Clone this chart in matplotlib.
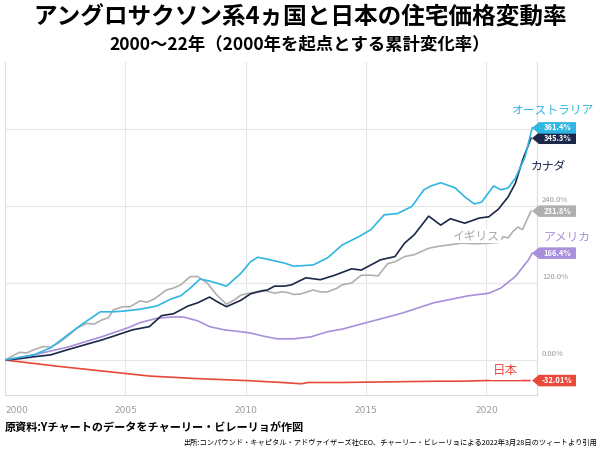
import matplotlib
matplotlib.use('Agg')
import matplotlib.pyplot as plt
from matplotlib.patches import Polygon
from matplotlib.transforms import blended_transform_factory

plt.rcParams['font.family'] = ['Noto Sans CJK JP', 'DejaVu Sans']

# ── data (cumulative change since 2000, %) ──
aus_x = [2000.0, 2000.6, 2001.2, 2001.9, 2002.6, 2003.25, 2003.96, 2004.4, 2004.9, 2005.6,
         2006.3, 2006.9, 2007.3, 2007.7, 2008.1, 2008.5, 2009.2, 2009.8, 2010.2, 2010.5,
         2010.9, 2011.6, 2012.0, 2012.8, 2013.4, 2014.0, 2014.7, 2015.2, 2015.75, 2016.3,
         2016.9, 2017.4, 2017.7, 2018.1, 2018.7, 2019.1, 2019.5, 2019.8, 2020.3, 2020.6,
         2020.9, 2021.2, 2021.6, 2021.9]
aus_y = [0, 4, 8, 19, 39, 57, 75, 75, 76, 79,
         84, 95, 100, 112, 126, 123, 115, 135, 153, 160,
         157, 151, 146, 148, 159, 179, 192, 203, 226, 228,
         239, 265, 271, 276, 268, 254, 243, 246, 271, 265,
         268, 283, 316, 361.4]

can_x = [2000.0, 2000.6, 2001.2, 2001.9, 2002.6, 2003.25, 2004.0, 2004.5, 2004.9, 2005.3,
         2006.0, 2006.5, 2007.0, 2007.6, 2008.0, 2008.5, 2008.8, 2009.2, 2009.8, 2010.2,
         2010.5, 2010.9, 2011.2, 2011.6, 2011.9, 2012.5, 2013.1, 2013.7, 2014.4, 2014.8,
         2015.2, 2015.6, 2016.2, 2016.6, 2017.0, 2017.6, 2018.1, 2018.5, 2019.1, 2019.7,
         2020.1, 2020.5, 2020.9, 2021.2, 2021.5, 2021.85]
can_y = [0, 2, 5, 8, 16, 23, 31, 37, 42, 47,
         52, 69, 72, 84, 89, 98, 91, 83, 93, 103,
         106, 109, 115, 115, 117, 128, 125, 132, 142, 140,
         148, 156, 161, 182, 195, 224, 210, 220, 213, 221,
         223, 235, 254, 275, 311, 345.3]

uk_x = [2000.0, 2000.3, 2000.6, 2000.9, 2001.2, 2001.6, 2001.9, 2002.2, 2002.6, 2003.0,
        2003.4, 2003.7, 2004.0, 2004.3, 2004.5, 2004.9, 2005.2, 2005.6, 2005.9, 2006.2,
        2006.7, 2007.0, 2007.3, 2007.7, 2008.0, 2008.4, 2008.8, 2009.2, 2009.5, 2009.8,
        2010.3, 2010.75, 2011.0, 2011.2, 2011.5, 2011.75, 2012.0, 2012.3, 2012.8, 2013.1,
        2013.4, 2013.8, 2014.0, 2014.4, 2014.8, 2015.2, 2015.5, 2015.9, 2016.2, 2016.6,
        2017.0, 2017.6, 2018.0, 2018.4, 2019.0, 2019.5, 2020.1, 2020.5, 2020.7, 2020.9,
        2021.1, 2021.3, 2021.5, 2021.75, 2021.85]
uk_y = [0, 6, 12, 11, 16, 21, 20, 26, 37, 50,
        57, 56, 62, 66, 78, 83, 83, 92, 90, 95,
        109, 112, 117, 130, 130, 120, 101, 87, 93, 101,
        105, 109, 106, 104, 106, 105, 102, 103, 109, 106,
        106, 112, 117, 120, 132, 132, 131, 150, 153, 161,
        164, 174, 177, 179, 182, 181, 182, 183, 192, 190,
        200, 207, 203, 224, 231.8]

us_x = [2000.0, 2001.2, 2002.6, 2004.0, 2005.1, 2005.6, 2006.3, 2007.0, 2007.4, 2008.0,
        2008.5, 2009.1, 2009.8, 2010.2, 2010.75, 2011.3, 2012.0, 2012.7, 2013.4, 2014.0,
        2015.1, 2016.5, 2017.8, 2019.25, 2020.1, 2020.6, 2021.2, 2021.75, 2021.9]
us_y = [0, 8, 20, 36, 50, 58, 65, 67, 67, 61,
        52, 47, 44, 42, 37, 33, 33, 36, 44, 48,
        59, 73, 89, 100, 104, 112, 130, 156, 166.4]

jp_x = [2000.0, 2002.0, 2004.0, 2006.0, 2008.0, 2010.0, 2011.5, 2012.3, 2012.6, 2014.0,
        2016.0, 2018.0, 2019.0, 2020.0, 2021.0, 2021.8]
jp_y = [0, -9, -17, -25, -29, -32, -35, -37, -35, -35,
        -34, -33, -33, -32, -32, -32.01]

series = [
    # name, x, y, color, end tag
    ("イギリス", uk_x, uk_y, "#b0b0b0", "231.8%"),
    ("アメリカ", us_x, us_y, "#a98fdc", "166.4%"),
    ("日本", jp_x, jp_y, "#e8493b", "-32.01%"),
    ("カナダ", can_x, can_y, "#1b2748", "345.3%"),
    ("オーストラリア", aus_x, aus_y, "#30b6e2", "361.4%"),
]

grid_vals = [0, 120, 240, 360]
right_ticks = [0, 120, 240]
right_labels = ["0.00%", "120.0%", "240.0%"]
year_ticks = [2000, 2005, 2010, 2015, 2020]

fig = plt.figure(figsize=(6, 4.5), dpi=100)
ax = fig.add_axes([5 / 600, 1 - 395 / 450, 532 / 600, 333 / 450])
ax.set_xlim(2000, 2022.1)
ax.set_ylim(-54.5, 464)

grid_c = "#e6e6e6"
for v in grid_vals:
    ax.axhline(v, color=grid_c, lw=0.8, zorder=0)
for yr in year_ticks[1:]:
    ax.axvline(yr, color=grid_c, lw=0.8, zorder=0)

ax.spines["top"].set_visible(False)
for side in ["left", "right", "bottom"]:
    ax.spines[side].set_color("#dddddd")
    ax.spines[side].set_linewidth(0.8)

ax.set_yticks([])
ax.set_xticks(year_ticks)
ax.set_xticklabels([str(y) for y in year_ticks], fontsize=6.5, color="#9a9a9a",
                   family=['Liberation Sans Narrow', 'DejaVu Sans'])
ax.tick_params(axis='x', length=0, pad=8)
ax.get_xticklabels()[0].set_horizontalalignment('left')

for name, xs, ys, col, tag in series:
    ax.plot(xs, ys, color=col, lw=1.2, zorder=3)

# right-side axis labels
fig_y = blended_transform_factory(fig.transFigure, ax.transData)
for v, lab in zip(right_ticks, right_labels):
    ax.text(542 / 600, v + 3, lab, transform=fig_y, fontsize=5.5, color="#999999",
            ha="left", va="bottom", clip_on=False, zorder=1)

# end-value tags
h = 9.0
for name, xs, ys, col, tag in series:
    yv = ys[-1]
    x0, x1, x2 = 532 / 600, 539 / 600, 576 / 600
    poly = Polygon([(x0, yv), (x1, yv + h), (x2, yv + h), (x2, yv - h), (x1, yv - h)],
                   closed=True, transform=fig_y, facecolor=col, edgecolor="none",
                   clip_on=False, zorder=5)
    ax.add_patch(poly)
    ax.text((x1 + x2) / 2, yv, tag, transform=fig_y, color="white", fontsize=5.5,
            fontweight="bold", ha="center", va="center", clip_on=False, zorder=6)

# series name labels
ax.text(553 / 600, (360 - 110) / 0.6417, "オーストラリア", transform=fig_y, color="#30b6e2",
        fontsize=8.5, ha="center", va="center", clip_on=False)
ax.text(548 / 600, (360 - 167) / 0.6417, "カナダ", transform=fig_y, color="#1b2748",
        fontsize=8.5, ha="center", va="center", clip_on=False)
ax.text(567 / 600, (360 - 237) / 0.6417, "アメリカ", transform=fig_y, color="#a98fdc",
        fontsize=8.5, ha="center", va="center", clip_on=False)
ax.text(2019.6, 193, "イギリス", color="#a8a8a8", fontsize=8.5, ha="center", va="center",
        zorder=4, bbox=dict(facecolor="white", edgecolor="none", pad=0.5))
ax.text(2020.8, -16, "日本", color="#e8493b", fontsize=9, ha="center", va="center",
        zorder=4, bbox=dict(facecolor="white", edgecolor="none", pad=2))

# titles and notes
fig.text(0.5, 1 - 18 / 450, "アングロサクソン系4ヵ国と日本の住宅価格変動率", fontsize=17,
         fontweight="bold", ha="center", va="center")
fig.text(0.5, 1 - 45 / 450, "2000～22年（2000年を起点とする累計変化率）", fontsize=12.5,
         fontweight="bold", ha="center", va="center")
fig.text(5 / 600, 1 - 428 / 450, "原資料:Yチャートのデータをチャーリー・ビレーリョが作図",
         fontsize=8, fontweight="bold", ha="left", va="center")
fig.text(597 / 600, 1 - 443 / 450,
         "出所:コンパウンド・キャピタル・アドヴァイザーズ社CEO、チャーリー・ビレーリョによる2022年3月28日のツィートより引用",
         fontsize=5.2, ha="right", va="center")

fig.savefig("out.png", dpi=100)
